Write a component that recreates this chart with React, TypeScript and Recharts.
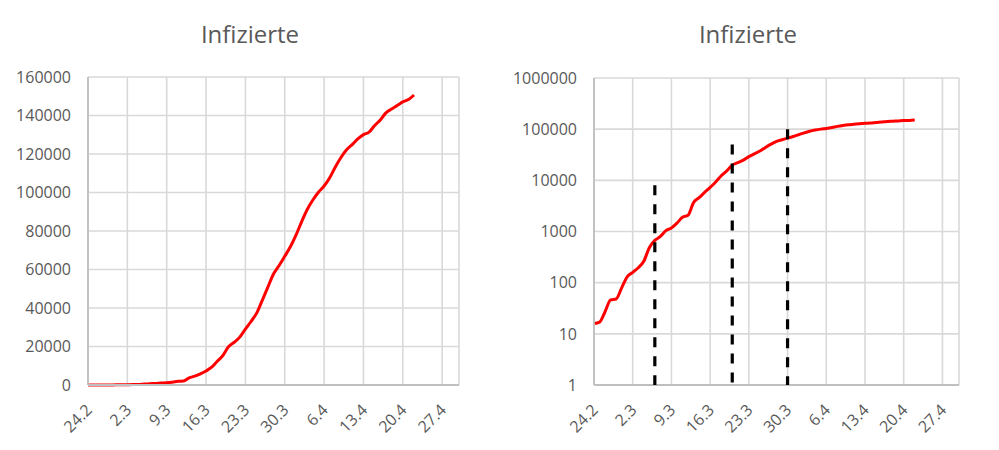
import React from "react";
import {
  LineChart,
  Line,
  XAxis,
  YAxis,
  CartesianGrid,
  ReferenceLine,
} from "recharts";

// Weekly date labels (24.2 = day 0)
const tickDays = [0, 7, 14, 21, 28, 35, 42, 49, 56, 63];
const dayLabels = ["24.2", "2.3", "9.3", "16.3", "23.3", "30.3", "6.4", "13.4", "20.4", "27.4"];

// Cumulative infections, one value per day starting 24.2
const infizierte = [
  16, 17, 27, 46, 48, 79,
  130, 159, 196, 262, 482, 670, 799, 1040, 1176, 1457, 1908, 2078, 3675, 4585,
  5795, 7272, 9257, 12327, 15320, 19848, 22213, 24873, 29056, 32986, 37323,
  43938, 50871, 57695, 62095, 66885, 71808,
  77872, 84794, 91159, 96092, 100123, 103374, 107663, 113296, 118181, 122171,
  124908, 127854, 130072, 131359, 134753, 137698, 141397, 143342, 145184,
  147065, 148291, 150648,
];

const linearTicks = [0, 20000, 40000, 60000, 80000, 100000, 120000, 140000, 160000];
const logTicks = [1, 10, 100, 1000, 10000, 100000, 1000000];

// dashed markers on the log chart
const markerDays = [11, 25, 35];
const markerTops = [8000, 50000, 100000];

const data = infizierte.map((value, day) => ({ day, value }));

const FONT = "'Open Sans', sans-serif";
const TEXT = "#595959";
const GRID = "#d9d9d9";
const AXIS = "#bfbfbf";

const DateTick = (props: any) => {
  const { x, y, payload } = props;
  const px = x + 5;
  const py = y + 18;
  const label = dayLabels[tickDays.indexOf(payload.value)] ?? "";
  return (
    <text
      x={px}
      y={py}
      transform={`rotate(-45 ${px} ${py})`}
      textAnchor="end"
      fill={TEXT}
      fontSize={16}
      fontFamily={FONT}
    >
      {label}
    </text>
  );
};

const ValueTick = (props: any) => {
  const { x, y, payload } = props;
  return (
    <text x={x} y={y} dy="0.36em" textAnchor="end" fill={TEXT} fontSize={16} fontFamily={FONT}>
      {payload.value}
    </text>
  );
};

const Title = ({ left }: { left: number }) => (
  <div
    style={{
      position: "absolute",
      left,
      top: 22,
      width: 500,
      textAlign: "center",
      fontFamily: FONT,
      fontSize: 24,
      lineHeight: "24px",
      color: TEXT,
    }}
  >
    Infizierte
  </div>
);

export default function App() {
  return (
    <div style={{ position: "absolute", left: 0, top: 0, width: 999, height: 450, background: "#fff" }}>
      <Title left={0} />
      <Title left={498} />

      <div style={{ position: "absolute", left: 0, top: 0 }}>
        <LineChart width={500} height={450} data={data} margin={{ top: 77, right: 41, bottom: 25, left: 0 }}>
          <CartesianGrid stroke={GRID} strokeWidth={1.6} />
          <XAxis
            dataKey="day"
            type="number"
            domain={[0, 66]}
            ticks={tickDays}
            interval={0}
            height={40}
            tick={<DateTick />}
            tickLine={false}
            axisLine={{ stroke: AXIS, strokeWidth: 1.8 }}
          />
          <YAxis
            type="number"
            domain={[0, 160000]}
            ticks={linearTicks}
            interval={0}
            width={88}
            tickMargin={11}
            tick={<ValueTick />}
            tickLine={false}
            axisLine={{ stroke: AXIS, strokeWidth: 1.8 }}
          />
          <Line
            type="monotone"
            dataKey="value"
            stroke="#ff0000"
            strokeWidth={3}
            dot={false}
            isAnimationActive={false}
          />
        </LineChart>
      </div>

      <div style={{ position: "absolute", left: 500, top: 0 }}>
        <LineChart width={499} height={450} data={data} margin={{ top: 78, right: 40, bottom: 25, left: 0 }}>
          <CartesianGrid stroke={GRID} strokeWidth={1.6} />
          <XAxis
            dataKey="day"
            type="number"
            domain={[0, 66]}
            ticks={tickDays}
            interval={0}
            height={40}
            tick={<DateTick />}
            tickLine={false}
            axisLine={{ stroke: AXIS, strokeWidth: 1.8 }}
          />
          <YAxis
            type="number"
            scale="log"
            domain={[1, 1000000]}
            ticks={logTicks}
            interval={0}
            width={94}
            tickMargin={11}
            tick={<ValueTick />}
            tickLine={false}
            axisLine={{ stroke: AXIS, strokeWidth: 1.8 }}
            allowDataOverflow
          />
          <Line
            type="monotone"
            dataKey="value"
            stroke="#ff0000"
            strokeWidth={3}
            dot={false}
            isAnimationActive={false}
          />
          {markerDays.map((d, i) => (
            <ReferenceLine
              key={d}
              segment={[
                { x: d, y: markerTops[i] },
                { x: d, y: 1 },
              ]}
              stroke="#000"
              strokeWidth={3.2}
              strokeDasharray="10 9"
              zIndex={1000}
            />
          ))}
        </LineChart>
      </div>
    </div>
  );
}
